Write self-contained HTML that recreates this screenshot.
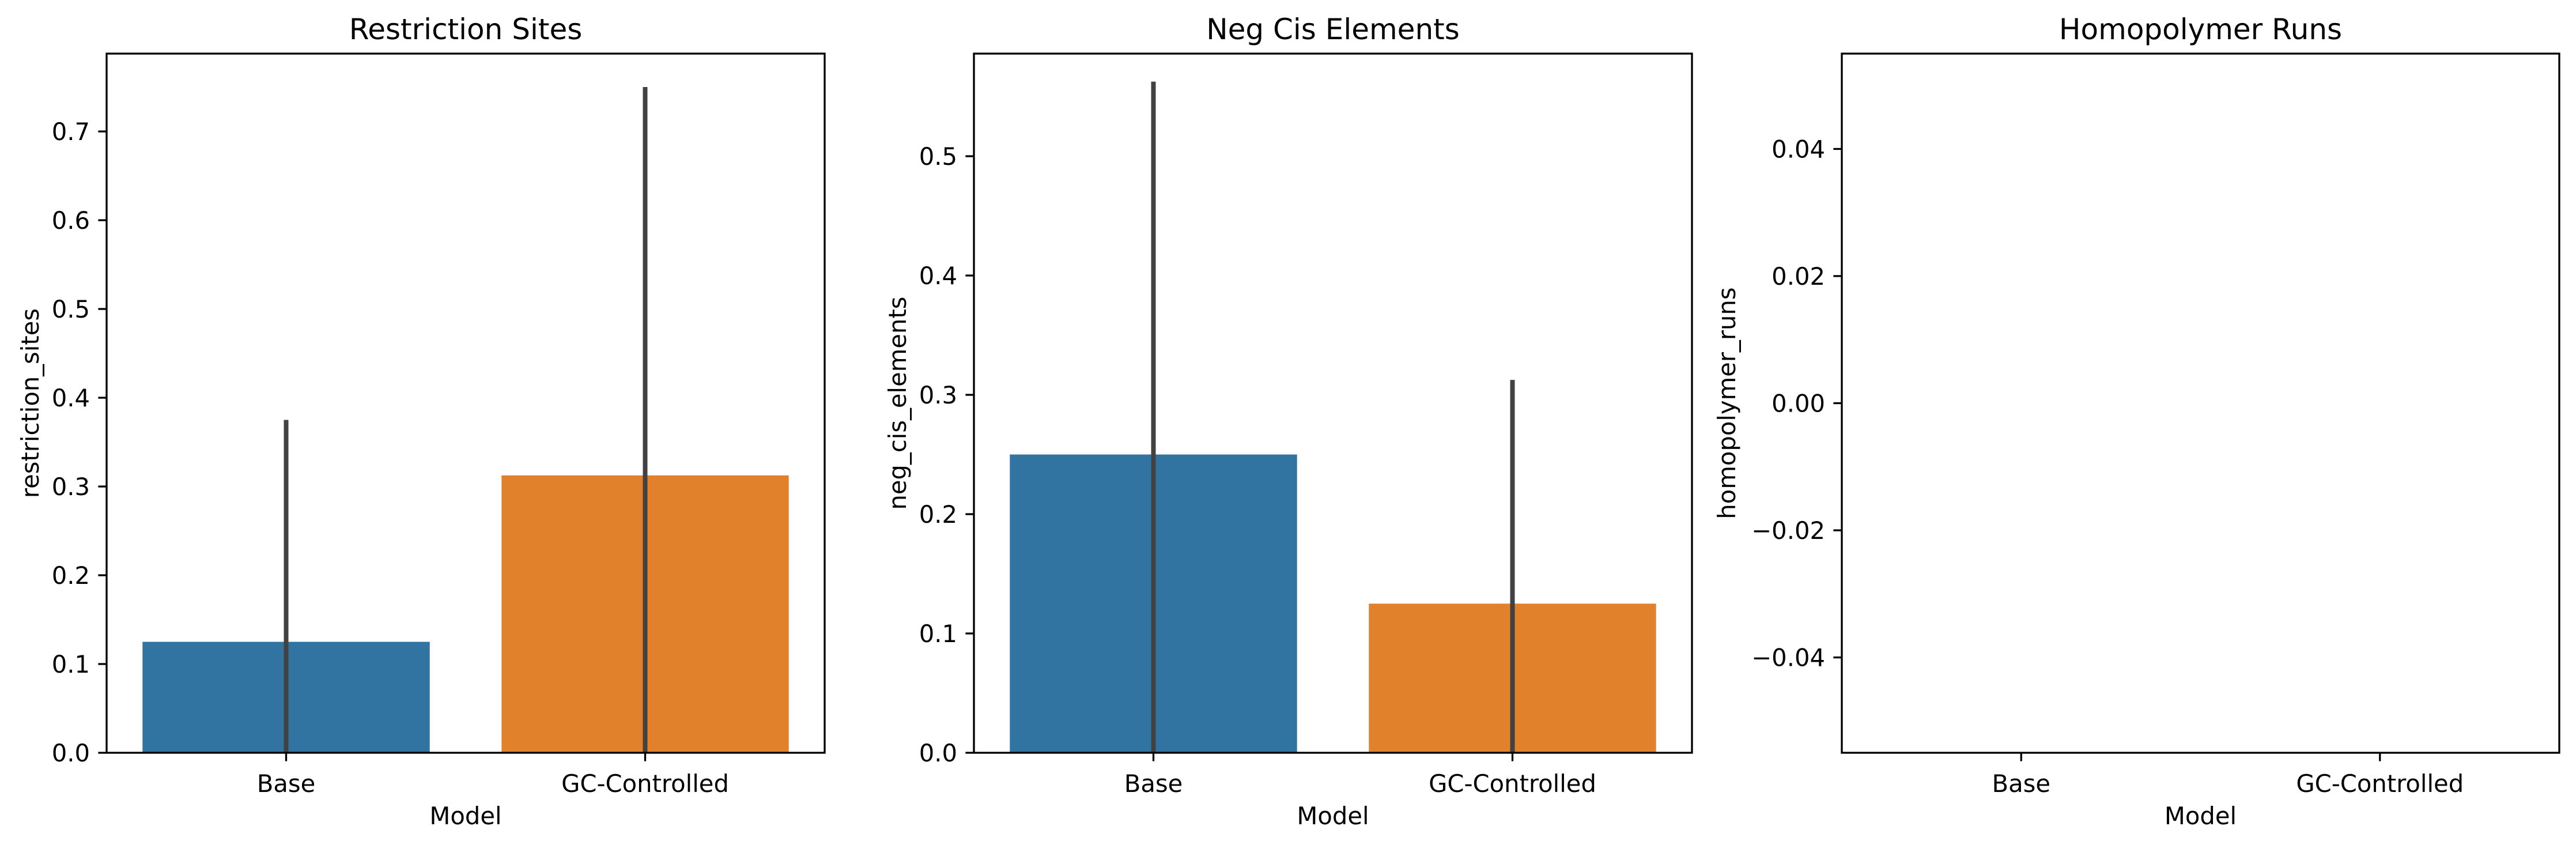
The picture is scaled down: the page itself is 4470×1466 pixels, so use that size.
<!DOCTYPE html>
<html><head><meta charset="utf-8">
<style>
html,body{margin:0;padding:0;background:#fff;}
svg{display:block;}
text{font-family:"DejaVu Sans","Liberation Sans",sans-serif;fill:#000;}
</style></head>
<body>
<svg id="fig" width="4470" height="1466" viewBox="0 0 4470 1466" xmlns="http://www.w3.org/2000/svg"></svg>
<script>
const categories = ["Base", "GC-Controlled"];
const titles = ["Restriction Sites", "Neg Cis Elements", "Homopolymer Runs"];
const yLabels = ["restriction_sites", "neg_cis_elements", "homopolymer_runs"];
const restrictionValues = [0.125, 0.3125];
const restrictionCiLow = [0.0, 0.0];
const restrictionCiHigh = [0.375, 0.75];
const negCisValues = [0.25, 0.125];
const negCisCiLow = [0.0, 0.0];
const negCisCiHigh = [0.5625, 0.3125];
const homopolymerValues = [];
const restrictionTicks = ["0.0","0.1","0.2","0.3","0.4","0.5","0.6","0.7"];
const negCisTicks = ["0.0","0.1","0.2","0.3","0.4","0.5"];
const homopolymerTicks = ["\u22120.04","\u22120.02","0.00","0.02","0.04"];

const NS = "http://www.w3.org/2000/svg";
const svg = document.getElementById("fig");
const colors = ["#3274a1", "#e1812c"];
function mk(tag, attrs, parent) {
  const e = document.createElementNS(NS, tag);
  for (const k in attrs) e.setAttribute(k, attrs[k]);
  (parent || svg).appendChild(e);
  return e;
}
const panels = [
  {left:185, right:1431, ymin:0, ymax:0.7877, ticks:restrictionTicks, vals:restrictionValues, lo:restrictionCiLow, hi:restrictionCiHigh, name:"restriction-sites"},
  {left:1690, right:2936, ymin:0, ymax:0.586, ticks:negCisTicks, vals:negCisValues, lo:negCisCiLow, hi:negCisCiHigh, name:"neg-cis-elements"},
  {left:3196, right:4441, ymin:-0.055, ymax:0.055, ticks:homopolymerTicks, vals:homopolymerValues, lo:[], hi:[], name:"homopolymer-runs"}
];
const axTop = 93, axBottom = 1306;
panels.forEach((p, pi) => {
  const g = mk("g", {});
  
  
  const y = v => axBottom - (v - p.ymin) / (p.ymax - p.ymin) * (axBottom - axTop);
  const x = v => p.left + (v + 0.5) / 2 * (p.right - p.left);
  p.vals.forEach((v, i) => {
    const y0 = y(Math.max(0, p.ymin)), y1 = y(v);
    const r = mk("rect", {x: x(i - 0.4), y: Math.min(y0, y1), width: x(i + 0.4) - x(i - 0.4), height: Math.abs(y0 - y1), fill: colors[i]}, g);
    
    
  });
  p.vals.forEach((v, i) => {
    const l = mk("line", {x1: x(i), x2: x(i), y1: y(p.lo[i]), y2: y(p.hi[i]), stroke: "#424242", "stroke-width": 8}, g);
    
    
  });
  const fr = mk("rect", {x: p.left, y: axTop, width: p.right - p.left, height: axBottom - axTop, fill: "none", stroke: "#000", "stroke-width": 3.3}, g);
  
  
  p.ticks.forEach(t => {
    const v = parseFloat(t.replace("\u2212", "-"));
    const yy = y(v);
    mk("line", {x1: p.left - 14.6, x2: p.left, y1: yy, y2: yy, stroke: "#000", "stroke-width": 3.3}, g);
    const tx = mk("text", {x: p.left - 29, y: yy + 15, "text-anchor": "end", "font-size": 41.7}, g);
    tx.textContent = t;
    
    
  });
  categories.forEach((c, i) => {
    mk("line", {x1: x(i), x2: x(i), y1: axBottom, y2: axBottom + 14.6, stroke: "#000", "stroke-width": 3.3}, g);
    const tx = mk("text", {x: x(i), y: axBottom + 68, "text-anchor": "middle", "font-size": 41.7}, g);
    tx.textContent = c;
    
    
  });
  const cx = (p.left + p.right) / 2;
  const xl = mk("text", {x: cx, y: 1430, "text-anchor": "middle", "font-size": 41.7}, g);
  xl.textContent = "Model";
  
  
  const ylx = pi === 2 ? p.left - 185 : p.left - 118;
  const yl = mk("text", {x: ylx, y: (axTop + axBottom) / 2, "text-anchor": "middle", "font-size": 41.7, transform: `rotate(-90 ${ylx} ${(axTop + axBottom) / 2})`}, g);
  yl.textContent = yLabels[pi];
  
  
  const tt = mk("text", {x: cx, y: 68, "text-anchor": "middle", "font-size": 50}, g);
  tt.textContent = titles[pi];
  
  
});
</script>
</body></html>
